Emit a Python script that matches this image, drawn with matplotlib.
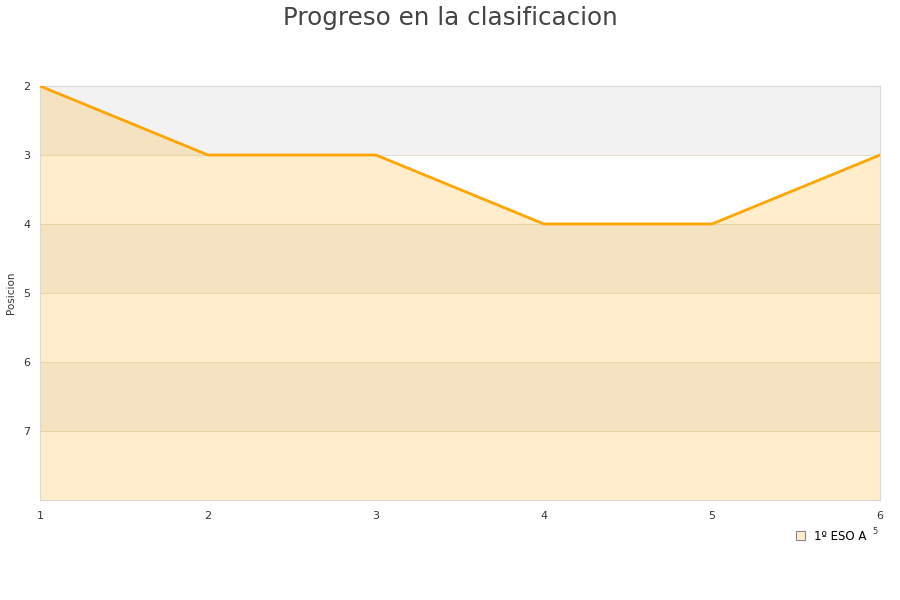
import matplotlib
matplotlib.use('Agg')
import matplotlib.pyplot as plt
from matplotlib.patches import Patch

# datos de la clasificacion
jornadas = [1, 2, 3, 4, 5, 6]
posicion = [2, 3, 3, 4, 4, 3]
serie = '1º ESO A'
y_ticks = [2, 3, 4, 5, 6, 7]
y_min, y_max = 2, 8

fig = plt.figure(figsize=(9, 6), dpi=100)
ax = fig.add_axes([40 / 900, 100 / 600, 840 / 900, 414 / 600])

# bandas alternas gris / blanco
for i in range(y_min, y_max):
    color = '#f2f2f2' if (i - y_min) % 2 == 0 else 'white'
    ax.axhspan(i, i + 1, color=color, zorder=0, lw=0)
    if i > y_min:
        ax.axhline(i, color='#e8dfcf', lw=0.8, zorder=1)

ax.fill_between(jornadas, posicion, y_max, color='#ffa500', alpha=0.2, lw=0, zorder=2)
ax.plot(jornadas, posicion, color='#ffa500', lw=2.0, zorder=3)

ax.set_xlim(jornadas[0], jornadas[-1])
ax.set_ylim(y_max, y_min)
ax.set_xticks(jornadas)
ax.set_yticks(y_ticks)
ax.tick_params(length=0, labelsize=8, colors='#333333', pad=8)
ax.tick_params(axis='y', pad=7)
for s in ax.spines.values():
    s.set_color('#d9d9d9')
    s.set_linewidth(0.8)

fig.text(11 / 900, 1 - 293 / 600, 'Posicion', fontsize=7.5, color='#333333',
         rotation=90, ha='center', va='center')
fig.suptitle('Progreso en la clasificacion', fontsize=17.7, color='#444444', y=0.99)

leg = fig.legend(handles=[Patch(facecolor='#ffedcc', edgecolor='#888888', lw=0.8, label=serie)],
                 loc='center left', bbox_to_anchor=(790 / 900, 1 - 536 / 600),
                 frameon=False, fontsize=8.5, handlelength=0.8, handleheight=0.8,
                 handletextpad=0.7, borderpad=0)
fig.text(875 / 900, 1 - 532 / 600, '5', fontsize=6, color='#333333', ha='center', va='center')

fig.savefig('out.png', dpi=100)
